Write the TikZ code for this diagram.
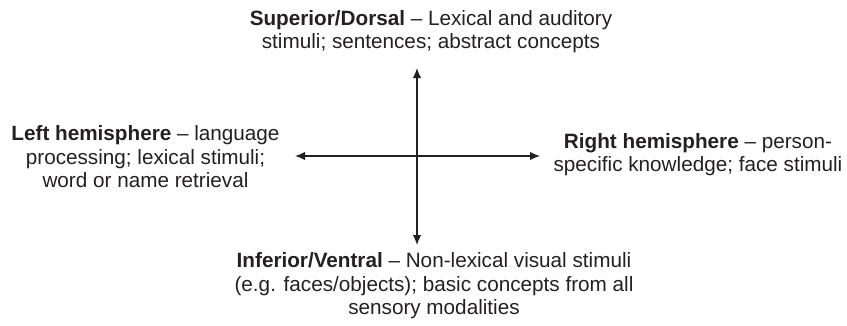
\documentclass[tikz,border=0pt]{standalone}
\usepackage{fontspec}
\usetikzlibrary{arrows.meta}
\setmainfont{Liberation Sans}
\definecolor{ink}{rgb}{0.14,0.12,0.13}
\def\s{1pt}
\def\punkt#1#2{({(#1)*\s},{(#2)*\s})}
\tikzset{label text/.style={align=center,inner sep=0pt,color=ink,font=\fontsize{20.7}{23.5}\selectfont}}

\begin{document}
\begin{tikzpicture}[>={Latex[length=10pt,width=8.5pt]},line width=1.3pt]
\useasboundingbox \punkt{0}{0} rectangle \punkt{847}{325};
\path \punkt{417}{257} coordinate (oben);
\path \punkt{417}{80} coordinate (unten);
\path \punkt{295}{169} coordinate (links);
\path \punkt{540}{169} coordinate (rechts);
\draw[color=ink,<->] (unten) -- (oben);
\draw[color=ink,<->] (links) -- (rechts);
\node[label text] (dorsal) at \punkt{431}{293.5} {\textbf{Superior/Dorsal} -- Lexical and auditory\\stimuli; sentences; abstract concepts};
\node[label text] (ventral) at \punkt{434}{39} {\textbf{Inferior/Ventral} -- Non-lexical visual stimuli\\(e.g. faces/objects); basic concepts from all\\sensory modalities};
\node[label text] (lh) at \punkt{145.5}{168} {\textbf{Left hemisphere} -- language\\processing; lexical stimuli;\\word or name retrieval};
\node[label text] (rh) at \punkt{698}{170.5} {\textbf{Right hemisphere} -- person-\\specific knowledge; face stimuli};
\end{tikzpicture}
\end{document}
